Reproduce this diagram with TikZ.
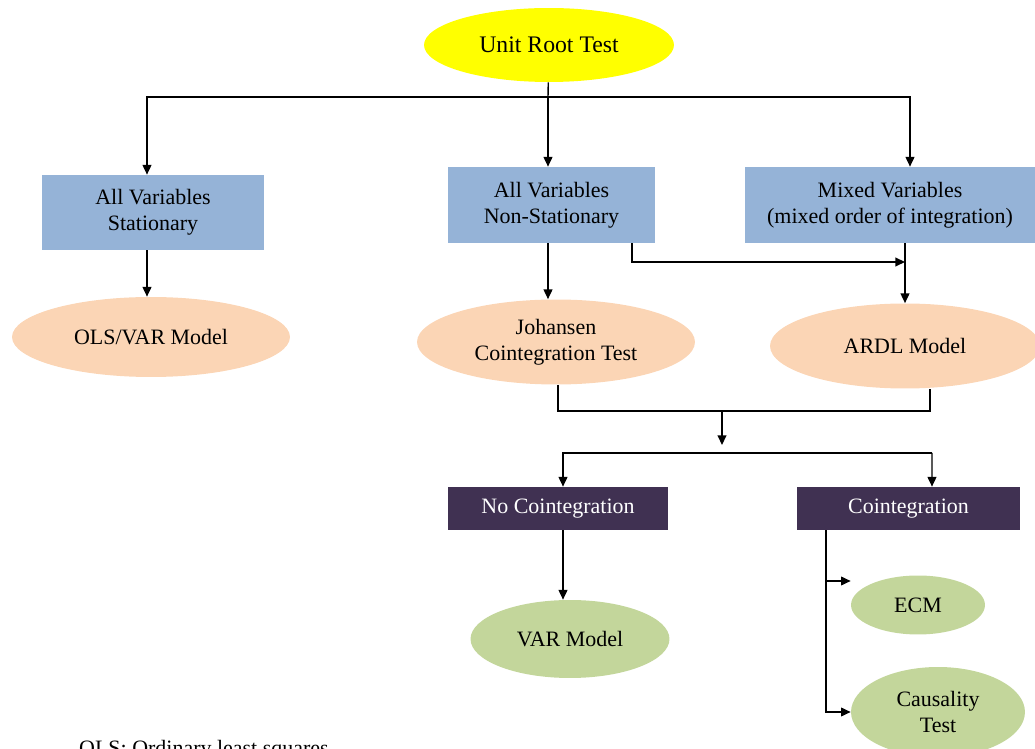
\documentclass[tikz,border=0pt]{standalone}
\usepackage{fontspec}
\setmainfont{Liberation Serif}
\usetikzlibrary{shapes.geometric,arrows.meta,positioning,calc}
\definecolor{testyellow}{RGB}{255,255,0}
\definecolor{varblue}{RGB}{149,179,215}
\definecolor{modelpeach}{RGB}{251,213,181}
\definecolor{cointpurple}{RGB}{64,49,82}
\definecolor{resultgreen}{RGB}{195,214,155}

\begin{document}
\begin{tikzpicture}[
      x=0.02cm, y=-0.02cm,
      txt/.style={font=\fontsize{12.5}{15}\selectfont},
      vbox/.style={rectangle, fill=varblue, txt, align=center,
                   inner sep=2pt},
      cbox/.style={rectangle, fill=cointpurple, text=white, txt,
                   minimum height=0.86cm, inner sep=2pt},
      model/.style={ellipse, fill=modelpeach, txt, align=center, inner sep=0pt},
      result/.style={ellipse, fill=resultgreen, txt, align=center, inner sep=0pt},
      link/.style={line width=0.8pt, color=black},
      arrow/.style={link, -{Triangle[length=5.5pt,width=5pt]}}
    ]
      \useasboundingbox (0,0) rectangle (1035,749);
      %% top of the tree
      \node[ellipse, fill=testyellow, minimum width=5cm, minimum height=1.48cm,
            font=\fontsize{13.5}{16}\selectfont] (unit) at (549,45) {Unit Root Test};
      %% outcome of the unit root test
      \node[vbox, minimum width=4.44cm, minimum height=1.5cm] (stat)
          at (153,212.5) {All Variables\\Stationary};
      \node[vbox, minimum width=4.14cm, minimum height=1.52cm] (nonstat)
          at (551.5,205) {All Variables\\Non-Stationary};
      \node[vbox, minimum width=5.8cm, minimum height=1.52cm] (mixed)
          at (890,205) {Mixed Variables\\(mixed order of integration)};
      %% models
      \node[model, minimum width=5.56cm, minimum height=1.6cm] (ols)
          at (151,337) {OLS/VAR Model};
      \node[model, minimum width=5.56cm, minimum height=1.7cm] (joh)
          at (556,342) {Johansen\\Cointegration Test};
      \node[model, minimum width=5.4cm, minimum height=1.7cm] (ardl)
          at (905,346) {ARDL Model};
      %% cointegration result
      \node[cbox, minimum width=4.4cm] (nocoint) at (558,508.5) {No Cointegration};
      \node[cbox, minimum width=4.46cm] (coint) at (908.5,508.5) {Cointegration};
      \node[result, minimum width=3.98cm, minimum height=1.56cm] (var)
          at (570,639) {VAR Model};
      \node[result, minimum width=2.68cm, minimum height=1.18cm] (ecm)
          at (918,605) {ECM};
      \node[result, minimum width=3.48cm, minimum height=1.8cm] (causal)
          at (938,712) {Causality\\Test};
      \node[txt, anchor=base west] (note) at (73,755) {OLS: Ordinary least squares};

      %% branch points
      \coordinate (split) at (548,97);
      \coordinate (join) at (905,262);
      \coordinate (mrg) at (722,411);
      \coordinate (fork) at (722,453);

      \draw[link] (unit) -- (split);
      \draw[arrow] (split) -| ([xshift=-0.12cm]stat.north);
      \draw[arrow] (split) -- (split |- nonstat.north);
      \draw[arrow] (split) -| ([xshift=0.4cm]mixed.north);
      \draw[arrow] ([xshift=-0.12cm]stat.south) -- ([xshift=-0.12cm]stat.south |- ols.north);
      \draw[arrow] (nonstat.south -| split) -- (split |- joh.north);
      \draw[arrow] ([xshift=1.61cm]nonstat.south) |- (join);
      \draw[arrow] (mixed.south -| join) -- (ardl.north);
      %% both tests lead to the same decision
      \draw[link] ([xshift=0.04cm]joh.south) |- (mrg) -| ([xshift=0.5cm]ardl.south);
      \draw[arrow] (mrg) -- ([yshift=0.16cm]fork);
      \draw[arrow] ([xshift=-3.18cm]fork) -| ([xshift=0.1cm]nocoint.north);
      \draw[link] ([xshift=-3.18cm]fork) -- ([xshift=4.2cm]fork);
      \draw[arrow] ([xshift=4.2cm]fork) -- ([xshift=0.47cm]coint.north);
      \draw[arrow] ([xshift=0.1cm]nocoint.south) -- ([xshift=0.1cm]nocoint.south |- var.north);
      \draw[arrow] ([xshift=-1.65cm]coint.south) |- ([yshift=0.48cm]ecm.west);
      \draw[arrow] ([xshift=-1.65cm]coint.south) |- (causal.west);
    \end{tikzpicture}
\end{document}
